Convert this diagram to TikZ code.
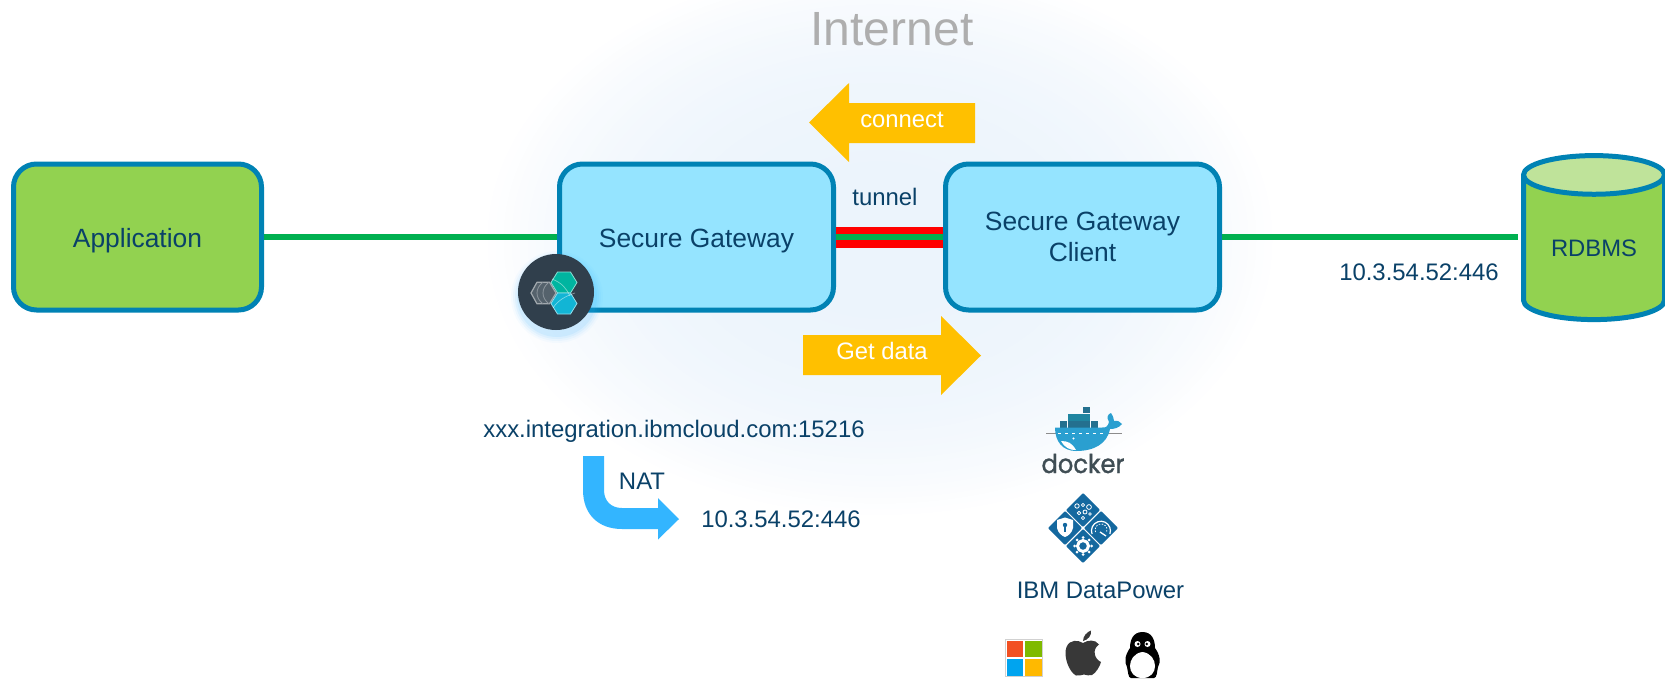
\documentclass[tikz,border=0pt]{standalone}
\usepackage{fontspec}
\setmainfont{Liberation Sans}
\newfontfamily\dockerfont[FakeBold=1.3]{Poppins}
\usetikzlibrary{shapes.geometric,calc}
\definecolor{txtblue}{HTML}{0A4168}
\definecolor{edgeblue}{HTML}{0082B4}
\definecolor{boxblue}{HTML}{95E4FF}
\definecolor{boxgreen}{HTML}{92D250}
\definecolor{topgreen}{HTML}{BFE39A}
\definecolor{linegreen}{HTML}{00B050}
\definecolor{orangearrow}{HTML}{FFC000}
\definecolor{natblue}{HTML}{33B5FF}
\definecolor{greytext}{HTML}{AEAEAE}
\definecolor{badge}{HTML}{303F4C}
\definecolor{hexteal}{HTML}{00B5A0}
\definecolor{hexblue}{HTML}{12B5D5}
\definecolor{dpblue}{HTML}{14689F}
\definecolor{whale}{HTML}{2A9FD0}
\definecolor{crate}{HTML}{24708F}
\definecolor{dockergrey}{HTML}{3F4D54}
\definecolor{glowblue}{HTML}{ECF4FC}
\definecolor{winred}{HTML}{F25022}
\definecolor{wingreen}{HTML}{7FBA00}
\definecolor{winblue}{HTML}{00A4EF}
\definecolor{winyellow}{HTML}{FFB900}
\newcommand{\pxfont}[1]{\fontsize{#1}{33}\selectfont}
\tikzset{
  x=1pt,y=-1pt,
  box/.style={draw=edgeblue,line width=5pt,rounded corners=23pt,minimum width=274pt,minimum height=146pt,inner sep=0pt,
    align=center,text=txtblue,font=\pxfont{26.4}},
  oneline/.style={text height=20.5pt,text depth=0pt},
  label/.style={anchor=base,inner sep=0pt,text=txtblue,font=\pxfont{23.9}},
  onarrow/.style={anchor=base,inner sep=0pt,text=white,font=\pxfont{23.8}},
  wire/.style={linegreen,line width=6pt},
  blockarrow/.style={fill=orangearrow},
}
\begin{document}
\begin{tikzpicture}
\useasboundingbox (0,0) rectangle (1665,678);
\fill[white] (0,0) rectangle (1665,678);
% soft glow behind the tunnel
\foreach \i in {0,2,...,100}{
  \pgfmathsetmacro{\t}{1-\i/100}
  \pgfmathsetmacro{\p}{100*(1-\t*\t*\t)}
  \fill[glowblue!\p!white] (880,240) ellipse [x radius={400*\t},y radius={280*\t}];
}

% title
\node[anchor=base,inner sep=0pt,text=greytext,font=\pxfont{48}] (internet) at (892,45) {Internet};

% main nodes
\node[box,oneline,fill=boxgreen,minimum width=248pt] (app) at (137.5,237) {Application};
\node[box,oneline,fill=boxblue] (sg) at (696.5,237) {Secure Gateway};
\node[box,fill=boxblue] (client) at (1082.5,237) {Secure Gateway\\[-2pt]Client};
\node[cylinder,shape border rotate=90,aspect=.45,draw=edgeblue,line width=5pt,
  cylinder uses custom fill,cylinder body fill=boxgreen,cylinder end fill=topgreen,
  minimum width=141pt,minimum height=164pt,inner sep=0pt,text=txtblue,font=\pxfont{23.8}] (db) at (1594,248.5) {RDBMS};

% connectors
\draw[wire] (app.east) -- (sg.west);
\draw[wire,shorten >=3pt] (client.east) -- (client.east -| db.west);
\draw[red,line width=21pt] (sg.east) -- (client.west);
\draw[wire] (sg.east) -- (client.west);

% labels
\node[label] (tunnel) at (885,205) {tunnel};
\node[label] (dbaddr) at (1419,280) {10.3.54.52:446};
\node[label] (ext) at (674,437) {xxx.integration.ibmcloud.com:15216};
\node[label] (nat) at (642,489) {NAT};
\node[label] (int) at (781,527) {10.3.54.52:446};
\node[label] (dp) at (1100.5,598) {IBM DataPower};

% orange arrows
\fill[blockarrow] (975,103) -- (849,103) -- (849,83) -- (809,122.5) -- (849,162) -- (849,143) -- (975,143) -- cycle;
\node[onarrow] (connect) at (902,127) {connect};
\fill[blockarrow] (803,335) -- (941,335) -- (941,316) -- (981,355.5) -- (941,395) -- (941,375) -- (803,375) -- cycle;
\node[onarrow] (getdata) at (882,359) {Get data};

% NAT arrow
\fill[natblue] (583,456) -- (604,456) -- (604,490) .. controls (604,501) and (611,508) .. (622,508)
  -- (658,508) -- (658,498) -- (679,519) -- (658,539.5) -- (658,529) -- (622,529)
  .. controls (598,529) and (583,514) .. (583,490) -- cycle;

% gateway badge
\foreach \r/\o in {46/.03,44/.05,42/.07,40/.09}{\fill[natblue,opacity=\o] (557,297) circle [radius=\r];}
\fill[badge] (556,292) circle [radius=38];
\begin{scope}[line join=round]
\filldraw[fill=white!18!badge,draw=white!55!badge,line width=1.2pt] (531,293) -- (537,282.2) -- (549.5,282.2) -- (556,293) -- (549.5,303.8) -- (537,303.8) -- cycle;
\draw[white!45!badge,line width=.8pt] (543,282.2) .. controls (535,288) and (535,298) .. (543,303.8);
\draw[white!45!badge,line width=.8pt] (549,282.2) .. controls (541,288) and (541,298) .. (549,303.8);
\filldraw[fill=hexteal,draw=white!55!hexteal,line width=.8pt] (551,282.5) -- (557.5,272) -- (570.5,272) -- (577,282.5) -- (570.5,293) -- (557.5,293) -- cycle;
\filldraw[fill=hexblue,draw=white!55!hexblue,line width=.8pt] (551,303.5) -- (557.5,293) -- (570.5,293) -- (577,303.5) -- (570.5,314) -- (557.5,314) -- cycle;
\draw[white,opacity=.45,line width=.7pt] (552,279) .. controls (562,283) and (566,288) .. (570,296);
\draw[white,opacity=.45,line width=.7pt] (575,293) .. controls (566,296) and (558,300) .. (553,308);
\end{scope}

% docker
\begin{scope}
\draw[black!45,line width=.8pt] (1046,433.5) -- (1058,433.5) (1108,433.5) -- (1122,433.5);
\foreach \cx in {1060,1067.7,1075.4,1083.1,1090.8}{\fill[crate] (\cx,421) rectangle +(7.2,6.8);}
\foreach \cx in {1067.7,1075.4,1083.1}{\fill[crate!85!cyan] (\cx,413.8) rectangle +(7.2,6.8);}
\fill[crate] (1083.1,406.5) rectangle +(7.2,6.8);
\fill[whale] (1055,427.5) -- (1102,427.5) .. controls (1106,428) and (1108,426) .. (1109,422)
  .. controls (1106,417) and (1108,414) .. (1111,413) .. controls (1113,416) and (1114,419) .. (1114,421)
  .. controls (1118,420) and (1120,422) .. (1122,424) .. controls (1119,428) and (1114,429) .. (1110,429)
  .. controls (1107,444) and (1094,451) .. (1076,451) .. controls (1063,451) and (1055,442) .. (1055,427.5) -- cycle;
\fill[white] (1061,441) .. controls (1068,441) and (1072,443) .. (1076,450) .. controls (1070,450.5) and (1064,447) .. (1061,441) -- cycle;
\fill[white] (1073.5,438.5) circle [radius=1.2];
\draw[white,line width=.6pt,dash pattern=on 3pt off 4pt] (1058,433.5) -- (1104,433.5);
\end{scope}
\node[anchor=base,inner sep=0pt,xscale=.93,transform shape,text=dockergrey,font=\dockerfont\pxfont{26}] (docker) at (1083,473) {docker};

% DataPower mark
\begin{scope}[line join=round]
\foreach \dx/\dy in {0/-18,0/18,-18/0,18/0}{
  \filldraw[fill=dpblue,draw=dpblue,line width=2pt] ($(1083,528)+(\dx,\dy)$) ++(0,-15.6) -- ++(15.6,15.6) -- ++(-15.6,15.6) -- ++(-15.6,-15.6) -- cycle;}
% top: gears
\foreach \px/\py/\pr in {1077/506/2.2,1083/505/1.6,1089/507/2.4,1079/513/1.8,1085/512/2.0,1090/514/1.4,1083/518/1.6}{
  \draw[white,line width=.8pt] (\px,\py) circle [radius=\pr];}
% left: shield
\fill[white] (1057,520) -- (1065,517.5) -- (1073,520) -- (1073,528) .. controls (1072,533) and (1068,536) .. (1065,537) .. controls (1062,536) and (1058,533) .. (1057,528) -- cycle;
\fill[dpblue] (1065,525) circle [radius=2.2];
\fill[dpblue] (1064,525) rectangle (1066,532);
% right: gauge
\draw[white,line width=1.2pt] (1092,534) arc [start angle=160,end angle=380,radius=9.5];
\draw[white,line width=.8pt,dash pattern=on 1.5pt off 1.5pt] (1095.5,532) arc [start angle=160,end angle=380,radius=6];
\draw[white,line width=1.3pt] (1100,532) -- (1106,536);
% bottom: gear
\draw[white,line width=3pt] (1083,546) circle [radius=5.5];
\foreach \a in {0,45,...,315}{\fill[white] (1083,546) ++(\a:8.5) circle [radius=1.5];}
\end{scope}

% Windows
\fill[black!18] (1005,639) rectangle (1043,677);
\fill[white] (1005.8,639.8) rectangle (1042.2,676.2);
\fill[winred] (1006.5,640.5) rectangle (1023.3,657);
\fill[wingreen] (1025,640.5) rectangle (1042,657);
\fill[winblue] (1006.5,658.5) rectangle (1023.3,675.5);
\fill[winyellow] (1025,658.5) rectangle (1042,675.5);

% Apple
\fill[black!78] (1083,643) .. controls (1078,640) and (1070,639) .. (1066.5,647)
  .. controls (1063,656) and (1069,672) .. (1076,675.5) .. controls (1079,676.5) and (1081,674.5) .. (1084,674.5)
  .. controls (1087,674.5) and (1089,676.5) .. (1092,675) .. controls (1096,673) and (1100,666) .. (1101,662)
  .. controls (1094,659) and (1092,649) .. (1099,644.5) .. controls (1095,639) and (1088,640) .. (1083,643) -- cycle;
\fill[black!78] (1083,641) .. controls (1083,636) and (1087,632) .. (1091,630.5) .. controls (1092,635) and (1088,640) .. (1083,641) -- cycle;

% Tux
\fill[black] (1142.5,632) .. controls (1133,632) and (1130,640) .. (1130,648)
  .. controls (1125,655) and (1124,662) .. (1127,667) .. controls (1128,671) and (1128,678) .. (1131,678)
  -- (1154,678) .. controls (1157,678) and (1157,671) .. (1158,667) .. controls (1161,662) and (1160,655) .. (1155,648)
  .. controls (1155,640) and (1152,632) .. (1142.5,632) -- cycle;
\fill[white] (1142.5,652) .. controls (1134,653) and (1130,660) .. (1130,666) .. controls (1130,672) and (1134,678) .. (1142.5,678)
  .. controls (1151,678) and (1155,672) .. (1155,666) .. controls (1155,660) and (1151,653) .. (1142.5,652) -- cycle;
\fill[white] (1137.5,644) circle [radius=3];
\fill[white] (1147.5,644) circle [radius=3];
\fill[black] (1138.3,644) circle [radius=1.4];
\fill[black] (1146.7,644) circle [radius=1.4];
\end{tikzpicture}
\end{document}
